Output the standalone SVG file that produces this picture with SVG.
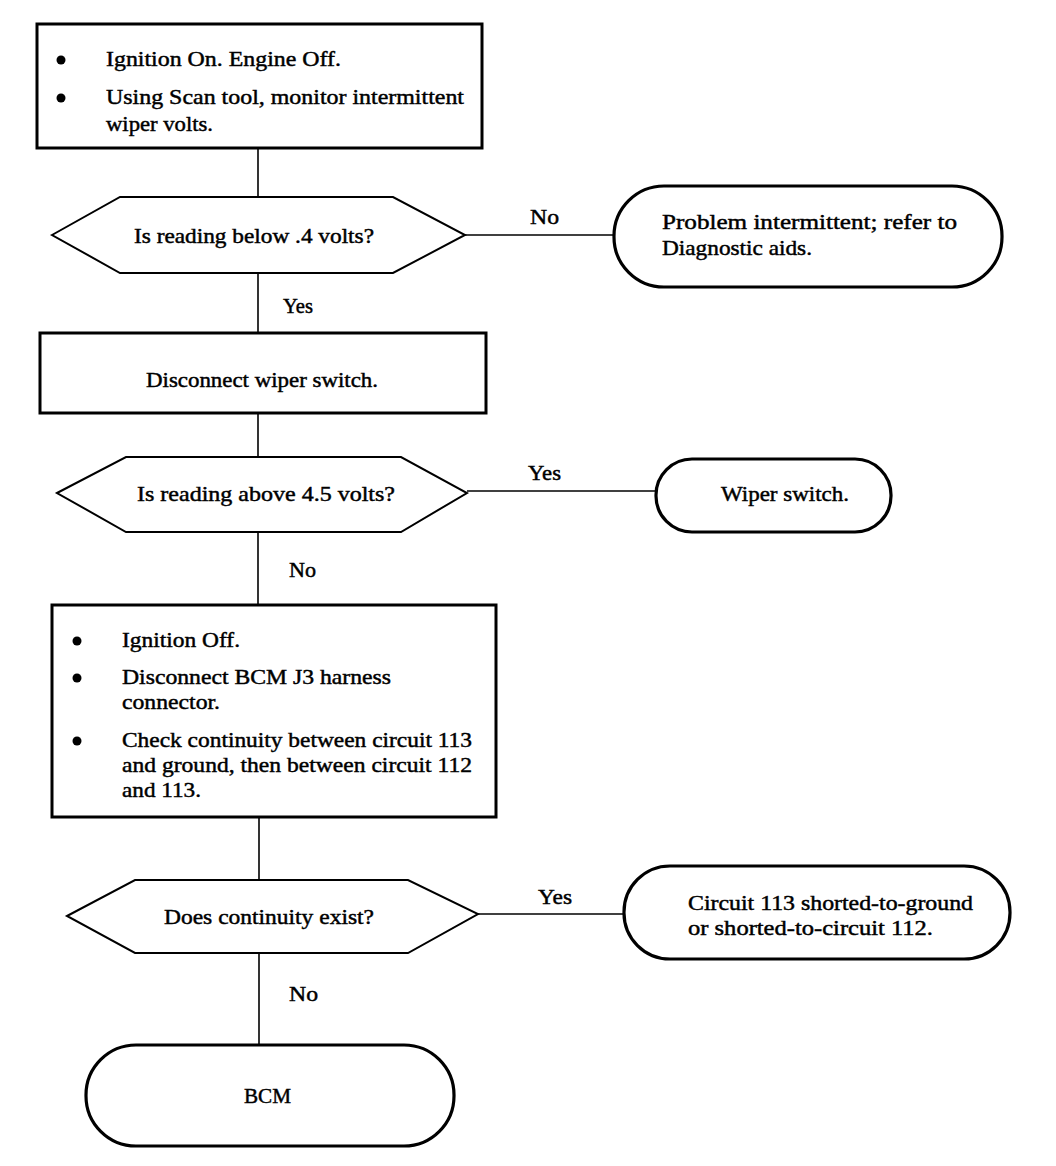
<svg xmlns="http://www.w3.org/2000/svg" width="1056" height="1166" viewBox="0 0 1056 1166">
<style>
.box{fill:#fff;stroke:#000;stroke-width:3}
.term{fill:#fff;stroke:#000;stroke-width:3.2}
.hex{fill:#fff;stroke:#000;stroke-width:2}
.ln{stroke:#000;stroke-width:1.6;fill:none}
text{font-family:"Liberation Serif","Times New Roman",serif;font-size:21px;fill:#000;stroke:#000;stroke-width:0.45}
.b{fill:#000}
</style>
<rect width="1056" height="1166" fill="#fff"/>
<g id="connectors">
<line class="ln" x1="258" y1="148" x2="258" y2="197"/>
<line class="ln" x1="465" y1="235" x2="614" y2="235"/>
<line class="ln" x1="258" y1="273" x2="258" y2="333"/>
<line class="ln" x1="258" y1="413" x2="258" y2="457"/>
<line class="ln" x1="467" y1="491" x2="656" y2="491"/>
<line class="ln" x1="258" y1="532" x2="258" y2="605"/>
<line class="ln" x1="259" y1="817" x2="259" y2="880"/>
<line class="ln" x1="478" y1="914" x2="624" y2="914"/>
<line class="ln" x1="259" y1="953" x2="259" y2="1045"/>
<text x="530" y="224" textLength="29" lengthAdjust="spacingAndGlyphs">No</text>
<text x="283" y="313" textLength="30" lengthAdjust="spacingAndGlyphs">Yes</text>
<text x="528" y="480" textLength="33" lengthAdjust="spacingAndGlyphs">Yes</text>
<text x="289" y="577" textLength="27" lengthAdjust="spacingAndGlyphs">No</text>
<text x="538" y="904" textLength="34" lengthAdjust="spacingAndGlyphs">Yes</text>
<text x="289" y="1001" textLength="29" lengthAdjust="spacingAndGlyphs">No</text>
</g>
<g id="step1">
<rect class="box" x="37" y="24" width="445" height="124"/>
<circle class="b" cx="61" cy="60" r="4.5"/>
<circle class="b" cx="61" cy="98" r="4.5"/>
<text x="106" y="66" textLength="235" lengthAdjust="spacingAndGlyphs">Ignition On. Engine Off.</text>
<text x="106" y="104" textLength="358" lengthAdjust="spacingAndGlyphs">Using Scan tool, monitor intermittent</text>
<text x="106" y="131" textLength="107" lengthAdjust="spacingAndGlyphs">wiper volts.</text>
</g>
<g id="decision1">
<polygon class="hex" points="52,235 120,197 393,197 465,235 393,273 120,273"/>
<text x="134" y="243" textLength="240" lengthAdjust="spacingAndGlyphs">Is reading below .4 volts?</text>
</g>
<g id="result1">
<rect class="term" x="614" y="186" width="388" height="101" rx="50" ry="50"/>
<text x="662" y="229" textLength="295" lengthAdjust="spacingAndGlyphs">Problem intermittent; refer to</text>
<text x="662" y="255" textLength="150" lengthAdjust="spacingAndGlyphs">Diagnostic aids.</text>
</g>
<g id="step2">
<rect class="box" x="40" y="333" width="446" height="80"/>
<text x="146" y="387" textLength="232" lengthAdjust="spacingAndGlyphs">Disconnect wiper switch.</text>
</g>
<g id="decision2">
<polygon class="hex" points="57,493 126,457 401,457 467,493 401,532 126,532"/>
<text x="137" y="501" textLength="258" lengthAdjust="spacingAndGlyphs">Is reading above 4.5 volts?</text>
</g>
<g id="result2">
<rect class="term" x="656" y="459" width="235" height="73" rx="36" ry="36"/>
<text x="721" y="501" textLength="128" lengthAdjust="spacingAndGlyphs">Wiper switch.</text>
</g>
<g id="step3">
<rect class="box" x="52" y="605" width="444" height="212"/>
<circle class="b" cx="77" cy="641" r="4.5"/>
<circle class="b" cx="77" cy="678" r="4.5"/>
<circle class="b" cx="77" cy="741" r="4.5"/>
<text x="122" y="647" textLength="118" lengthAdjust="spacingAndGlyphs">Ignition Off.</text>
<text x="122" y="684" textLength="269" lengthAdjust="spacingAndGlyphs">Disconnect BCM J3 harness</text>
<text x="122" y="709" textLength="98" lengthAdjust="spacingAndGlyphs">connector.</text>
<text x="122" y="747" textLength="350" lengthAdjust="spacingAndGlyphs">Check continuity between circuit 113</text>
<text x="122" y="772" textLength="350" lengthAdjust="spacingAndGlyphs">and ground, then between circuit 112</text>
<text x="122" y="797" textLength="79" lengthAdjust="spacingAndGlyphs">and 113.</text>
</g>
<g id="decision3">
<polygon class="hex" points="67,916 135,880 408,880 478,914 408,953 135,953"/>
<text x="164" y="924" textLength="210" lengthAdjust="spacingAndGlyphs">Does continuity exist?</text>
</g>
<g id="result3">
<rect class="term" x="624" y="866" width="386" height="93" rx="46" ry="46"/>
<text x="688" y="910" textLength="285" lengthAdjust="spacingAndGlyphs">Circuit 113 shorted-to-ground</text>
<text x="688" y="935" textLength="245" lengthAdjust="spacingAndGlyphs">or shorted-to-circuit 112.</text>
</g>
<g id="end">
<rect class="term" x="86" y="1045" width="368" height="101" rx="50" ry="50"/>
<text x="244" y="1103" textLength="47" lengthAdjust="spacingAndGlyphs">BCM</text>
</g>
</svg>
